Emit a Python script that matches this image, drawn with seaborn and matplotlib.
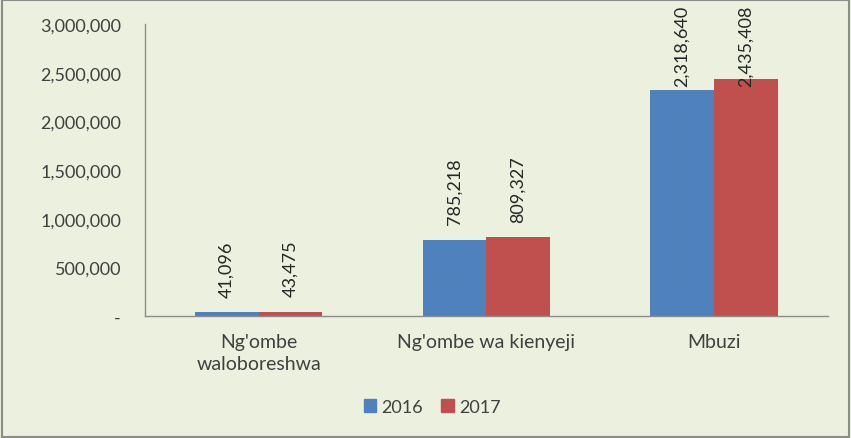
import pandas as pd
import seaborn as sns
import matplotlib.pyplot as plt
import matplotlib.transforms as mtransforms
from matplotlib.ticker import FuncFormatter, FixedLocator
from matplotlib.patches import Rectangle

# Data
categories = ["Ng'ombe\nwaloboreshwa", "Ng'ombe wa kienyeji", "Mbuzi"]
years = ['2016', '2017']
values_2016 = [41096, 785218, 2318640]
values_2017 = [43475, 809327, 2435408]

df = pd.DataFrame({
    'Category': categories * 2,
    'Year': [years[0]] * 3 + [years[1]] * 3,
    'Value': values_2016 + values_2017,
})

bg = '#ebf1de'
palette = {'2016': '#4f81bd', '2017': '#c0504d'}

sns.set_style('white')
plt.rcParams['font.family'] = ['Lato', 'DejaVu Sans']

fig = plt.figure(figsize=(8.51, 4.39), dpi=100, facecolor=bg)
ax = fig.add_axes([0.170, 0.278, 0.803, 0.665])
ax.set_facecolor(bg)

sns.barplot(data=df, x='Category', y='Value', hue='Year', order=categories,
            hue_order=years, palette=palette, width=0.56, saturation=1,
            linewidth=0, ax=ax, legend=False)

ax.set_xlim(-0.5, 2.5)
ax.set_ylim(0, 3000000)
ax.yaxis.set_major_locator(FixedLocator(range(0, 3000001, 500000)))
ax.yaxis.set_major_formatter(FuncFormatter(lambda v, p: '-' if v == 0 else f'{int(v):,}'))
ax.set_xlabel('')
ax.set_ylabel('')

for s in ['top', 'right']:
    ax.spines[s].set_visible(False)
for s in ['left', 'bottom']:
    ax.spines[s].set_color('#8c8c8c')
    ax.spines[s].set_linewidth(1)

ax.tick_params(axis='y', which='major', length=8, color='#a0a0a0', labelsize=13,
               labelcolor='#404040', pad=9)
ax.tick_params(axis='x', which='major', length=0, labelsize=14,
               labelcolor='#404040', pad=12)
for lbl in ax.get_xticklabels():
    lbl.set_linespacing(1.35)
ax.set_xticks([0.5, 1.5, 2.5], minor=True)
ax.tick_params(axis='x', which='minor', length=5, direction='inout', color='#8c8c8c')

# value labels
top_tr = mtransforms.blended_transform_factory(ax.transData, fig.transFigure)
for bars in ax.containers:
    for rect in bars:
        h = rect.get_height()
        xc = rect.get_x() + rect.get_width() / 2
        txt = f'{int(round(h)):,}'
        if h > 2000000:
            ax.text(xc, 1 - 6 / 439, txt, rotation=90, ha='center', va='top',
                    fontsize=13, color='#262626', transform=top_tr, clip_on=False)
        else:
            ax.annotate(txt, (xc, h), xytext=(0, 11), textcoords='offset points',
                        rotation=90, ha='center', va='bottom', fontsize=13,
                        color='#262626')

handles = [Rectangle((0, 0), 1, 1, color=palette[y]) for y in years]
fig.legend(handles, years, loc='center', bbox_to_anchor=(0.508, 0.071), ncol=2,
           frameon=False, fontsize=13, handlelength=0.7, handleheight=0.7,
           handletextpad=0.3, columnspacing=1.0, labelcolor='#404040')

fig.patches.append(Rectangle((0.002, 0.002), 0.996, 0.996, transform=fig.transFigure,
                             fill=False, edgecolor='#8c8c8c', linewidth=1.5))

fig.savefig('out.png', dpi=100, facecolor=bg)
